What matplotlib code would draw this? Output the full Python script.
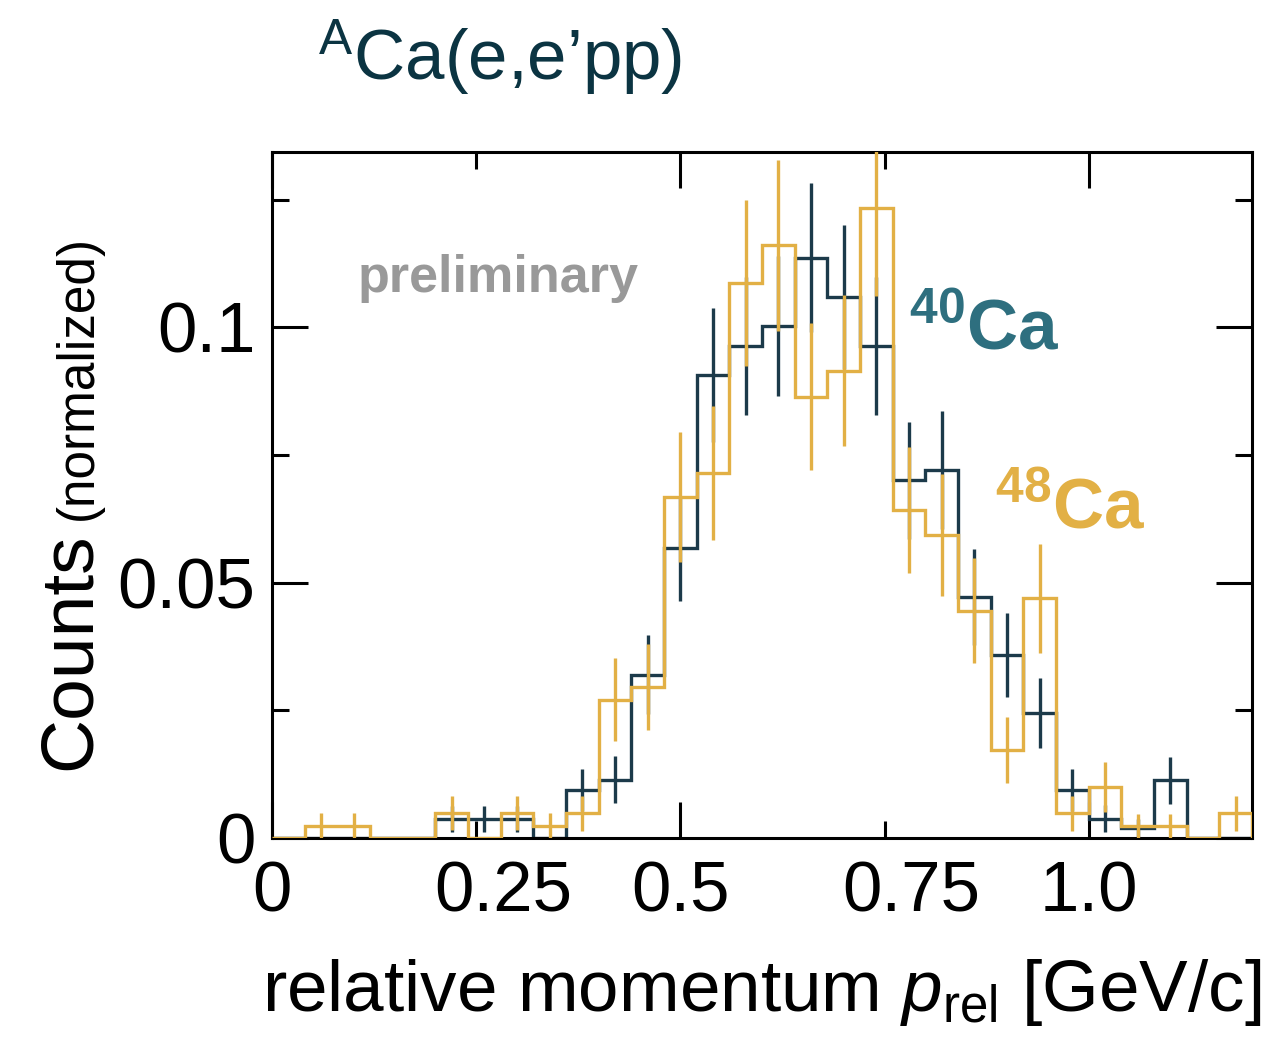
import numpy as np
import matplotlib
matplotlib.use("Agg")
import matplotlib.pyplot as plt
from matplotlib.transforms import ScaledTranslation

plt.rcParams['font.family'] = ['Liberation Sans', 'DejaVu Sans']
plt.rcParams['mathtext.fontset'] = 'custom'
plt.rcParams['mathtext.rm'] = 'Liberation Sans'
plt.rcParams['mathtext.it'] = 'Liberation Sans:italic'
plt.rcParams['mathtext.bf'] = 'Liberation Sans:bold'

# bin edges in relative momentum [GeV/c], 0.04 wide
bin_edges = np.round(np.arange(0, 1.2001, 0.04), 2)

# 40Ca(e,e'pp), normalized counts per bin
ca40 = [0, 0, 0, 0, 0, 0.0037, 0.0037, 0.0037, 0, 0.0094,
        0.0114, 0.032, 0.0567, 0.0907, 0.0963, 0.1002, 0.1136, 0.1059, 0.0963, 0.070,
        0.072, 0.0472, 0.0358, 0.0245, 0.0094, 0.0038, 0.0019, 0.0113, 0, 0]
ca40_err = [0, 0, 0, 0, 0, 0.0026, 0.0026, 0.0026, 0, 0.0042,
            0.0046, 0.0078, 0.0103, 0.0131, 0.0135, 0.0137, 0.0146, 0.0141, 0.0135, 0.0115,
            0.0116, 0.0094, 0.0082, 0.0068, 0.0042, 0.0027, 0.0019, 0.0046, 0, 0]

# 48Ca(e,e'pp)
ca48 = [0, 0.0024, 0.0024, 0, 0, 0.0049, 0, 0.0049, 0.0024, 0.0048,
        0.0271, 0.0295, 0.0667, 0.0715, 0.1087, 0.116, 0.0864, 0.0915, 0.1234, 0.0642,
        0.0593, 0.0445, 0.0172, 0.0469, 0.0048, 0.0099, 0.0023, 0.0023, 0, 0.0048]
ca48_err = [0, 0.0024, 0.0024, 0, 0, 0.0034, 0, 0.0034, 0.0024, 0.0034,
            0.0081, 0.0084, 0.0127, 0.0131, 0.0162, 0.0167, 0.0144, 0.0148, 0.0172, 0.0124,
            0.0119, 0.0103, 0.0064, 0.0106, 0.0034, 0.0049, 0.0024, 0.0024, 0, 0.0034]

x_major = [0, 0.5, 1.0]
x_minor = [0.25, 0.75]
x_major_labels = ['0', '0.5', '1.0']
x_minor_labels = ['0.25', '0.75']
y_major = [0, 0.05, 0.1]
y_major_labels = ['0', '0.05', '0.1']
y_minor = [0.025, 0.075, 0.125]

c_dark = '#1c3a4a'
c_gold = '#e2b045'
c_teal = '#2e6f7f'
c_title = '#0b3442'

fig = plt.figure(figsize=(12.72, 10.37), dpi=100)
ax = fig.add_axes([0.2138, 0.1919, 0.7705, 0.6615])

centers = 0.5 * (bin_edges[1:] + bin_edges[:-1])

def draw_hist(vals, errs, color, z):
    vals = np.asarray(vals, dtype=float)
    errs = np.asarray(errs, dtype=float)
    ax.stairs(vals, bin_edges, baseline=0, color=color, lw=2.4, zorder=z)
    m = vals > 0
    ax.errorbar(centers[m], vals[m], yerr=errs[m], fmt='none', ecolor=color,
                elinewidth=2.4, capsize=0, zorder=z)

draw_hist(ca40, ca40_err, c_dark, 2)
draw_hist(ca48, ca48_err, c_gold, 3)

ax.set_xlim(0, 1.2)
ax.set_ylim(0, 0.1343)

ax.set_xticks(x_major, x_major_labels)
ax.set_xticks(x_minor, x_minor_labels, minor=True)
ax.set_yticks(y_major, y_major_labels)
ax.set_yticks(y_minor, minor=True)

for side in ax.spines.values():
    side.set_linewidth(2.2)
ax.tick_params(which='both', direction='in', top=True, right=True, width=2.2,
               labelsize=51)
ax.tick_params(which='major', length=26)
ax.tick_params(which='minor', length=12.5)
ax.tick_params(axis='x', which='both', pad=16)
ax.tick_params(axis='y', which='both', pad=12)

# the 0.25 / 0.75 labels sit a little right of their ticks in the original
shift = ScaledTranslation(0.27, 0, fig.dpi_scale_trans)
for lab in ax.xaxis.get_minorticklabels():
    lab.set_transform(lab.get_transform() + shift)

ax.set_xlabel(r'relative momentum $p_{\mathrm{rel}}$ [GeV/c]', fontsize=52.5, labelpad=22)

# y label: "Counts" large + "(normalized)" small
fig.text(90 / 1272, 1 - 770 / 1037, 'Counts', rotation=90, rotation_mode='anchor',
         ha='left', va='baseline', fontsize=54)
fig.text(92 / 1272, 1 - 520 / 1037, '(normalized)', rotation=90, rotation_mode='anchor',
         ha='left', va='baseline', fontsize=37)

fig.text(318 / 1272, 1 - 80 / 1037, r'$^{\mathrm{A}}$Ca(e,e’pp)', color=c_title,
         fontsize=51, ha='left', va='baseline')

ax.text(0.105, 0.1068, 'preliminary', color='#999999', fontsize=37.5,
        fontweight='bold', ha='left', va='baseline')
ax.text(0.78, 0.0958, r'$^{\mathbf{40}}$Ca', color=c_teal, fontsize=51,
        fontweight='bold', ha='left', va='baseline')
ax.text(0.885, 0.0607, r'$^{\mathbf{48}}$Ca', color=c_gold, fontsize=51,
        fontweight='bold', ha='left', va='baseline')

fig.savefig('out.png', dpi=100, facecolor='white')
